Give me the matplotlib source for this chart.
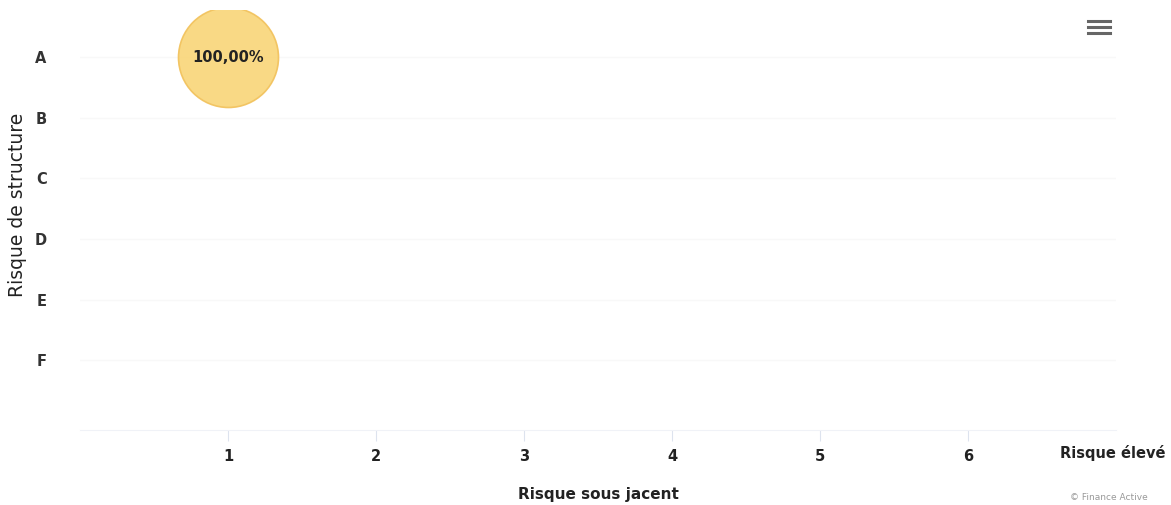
import matplotlib.pyplot as plt

plt.rcParams['font.family'] = ['DejaVu Sans']

categories = ["A", "B", "C", "D", "E", "F"]
x_ticks = [1, 2, 3, 4, 5, 6]
bubble_x = [1]
bubble_cat = ["A"]
bubble_pct = [100.0]

fig = plt.figure(figsize=(11.71, 5.05), dpi=100)
W, H = 1171, 505
ax = fig.add_axes([80 / W, 1 - 430 / H, (1116 - 80) / W, (430 - 10) / H])

ys = [categories.index(c) for c in bubble_cat]
ax.scatter(bubble_x, ys, s=5184, color="#f9d77e", edgecolor="#f2c35f",
           linewidth=1.2, alpha=0.95, zorder=3)
for x, y, p in zip(bubble_x, ys, bubble_pct):
    label = f"{p:.2f}".replace(".", ",") + "%"
    ax.text(x, y, label, ha="center", va="center", fontsize=10.5,
            fontweight="bold", color="#222222", zorder=4)

ax.set_xlim(0, 7)
ax.set_ylim(6.15, -0.78)
ax.set_xticks(x_ticks)
ax.set_yticks(range(len(categories)))
ax.set_yticklabels(categories)
ax.tick_params(axis="x", length=8, color="#dde3ee", labelsize=10.5,
               labelcolor="#222222", pad=6)
ax.tick_params(axis="y", length=0, labelsize=10.5, labelcolor="#333333", pad=24)
for lbl in ax.get_xticklabels() + ax.get_yticklabels():
    lbl.set_fontweight("bold")

for s in ["top", "right", "left"]:
    ax.spines[s].set_visible(False)
ax.spines["bottom"].set_color("#f0f2f7")
for y in range(len(categories)):
    ax.axhline(y, color="#f8f8f8", linewidth=1, zorder=0)

fig.text(598 / W, 1 - 494 / H, "Risque sous jacent", ha="center", va="center",
         fontsize=11, fontweight="bold", color="#222222")
fig.text(18 / W, 1 - 205 / H, "Risque de structure", rotation=90,
         ha="center", va="center", fontsize=13.5, color="#222222")
fig.text(1166 / W, 1 - 453 / H, "Risque élevé", ha="right", va="center",
         fontsize=10.5, fontweight="bold", color="#222222")
fig.text(1148 / W, 1 - 497 / H, "© Finance Active", ha="right", va="center",
         fontsize=6.5, color="#999999")

# menu icon
for dy in (-6, 0, 6):
    fig.add_artist(plt.Line2D([1088 / W, 1110 / W],
                              [1 - (27 + dy) / H] * 2,
                              color="#666666", linewidth=2.2))

fig.savefig("out.png", dpi=100)
